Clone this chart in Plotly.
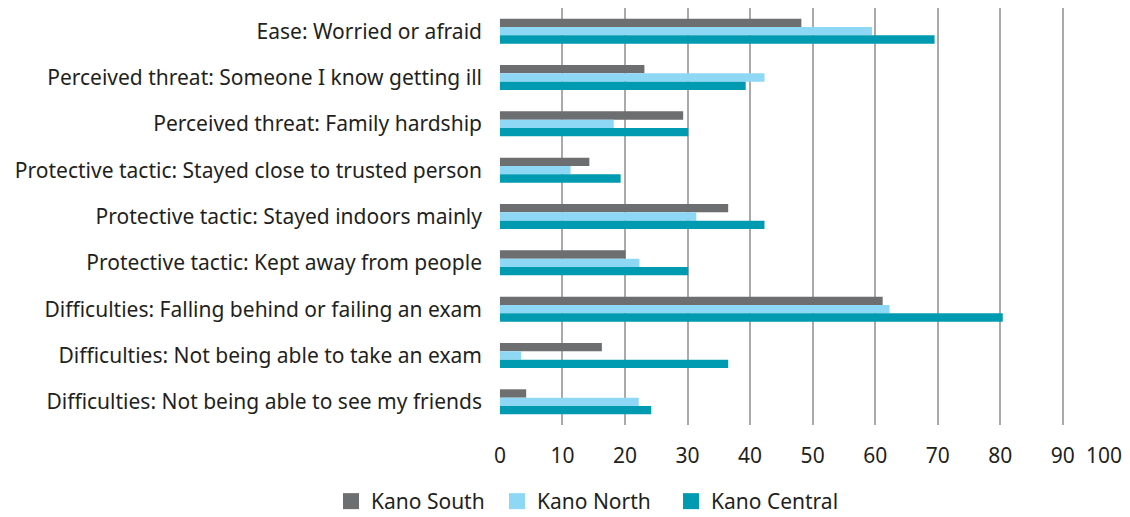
import plotly.graph_objects as go

categories = [
    "Ease: Worried or afraid",
    "Perceived threat: Someone I know getting ill",
    "Perceived threat: Family hardship",
    "Protective tactic: Stayed close to trusted person",
    "Protective tactic: Stayed indoors mainly",
    "Protective tactic: Kept away from people",
    "Difficulties: Falling behind or failing an exam",
    "Difficulties: Not being able to take an exam",
    "Difficulties: Not being able to see my friends",
]

kano_south = [48.2, 23.1, 29.3, 14.3, 36.5, 20.1, 61.2, 16.3, 4.2]
kano_north = [59.5, 42.3, 18.2, 11.3, 31.4, 22.3, 62.3, 3.4, 22.2]
kano_central = [69.5, 39.3, 30.1, 19.3, 42.3, 30.1, 80.4, 36.5, 24.2]

series_names = ["Kano South", "Kano North", "Kano Central"]
series_colors = ["#6d6e70", "#8fd8f5", "#009bb0"]

tick_vals = [0, 10, 20, 30, 40, 50, 60, 70, 80, 90, 96.6]
tick_text = ["0", "10", "20", "30", "40", "50", "60", "70", "80", "90", "100"]

FONT = "Noto Sans"
FONT_SIZE = 21
TEXT_COLOR = "#231f20"

# one legend box per series, placed along the bottom of the figure
legend_ids = ["legend", "legend2", "legend3"]
legend_x = [0.2929, 0.4398, 0.5938]

fig = go.Figure()
for name, values, color in zip(series_names, [kano_south, kano_north, kano_central], series_colors):
    fig.add_trace(go.Bar(
        y=categories,
        x=values,
        name=name,
        orientation="h",
        marker=dict(color=color, line=dict(width=0)),
        showlegend=False,
    ))

# legend-only entries with square swatches
for name, color, lid in zip(series_names, series_colors, legend_ids):
    fig.add_trace(go.Scatter(
        x=[None],
        y=[None],
        mode="markers",
        name=name,
        marker=dict(symbol="square", size=16, color=color),
        legend=lid,
        hoverinfo="skip",
    ))

legend_common = dict(
    orientation="h",
    xref="container",
    yref="container",
    xanchor="left",
    y=0.03,
    yanchor="middle",
    bgcolor="rgba(0,0,0,0)",
    font=dict(family=FONT, size=FONT_SIZE, color=TEXT_COLOR),
)

fig.update_layout(
    width=1130,
    height=517,
    margin=dict(l=499, r=21, t=8, b=92),
    paper_bgcolor="white",
    plot_bgcolor="white",
    barmode="group",
    bargap=0.46,
    bargroupgap=0,
    font=dict(family=FONT, size=FONT_SIZE, color=TEXT_COLOR),
    showlegend=True,
    legend=dict(x=legend_x[0], **legend_common),
    legend2=dict(x=legend_x[1], **legend_common),
    legend3=dict(x=legend_x[2], **legend_common),
)

fig.update_xaxes(
    range=[-0.15, 96.75],
    tickvals=tick_vals,
    ticktext=tick_text,
    showgrid=True,
    gridcolor="#aaaaaa",
    gridwidth=1.8,
    zeroline=False,
    showline=False,
    ticks="outside",
    ticklen=12,
    tickcolor="rgba(0,0,0,0)",
    tickfont=dict(family=FONT, size=FONT_SIZE, color=TEXT_COLOR),
)

fig.update_yaxes(
    autorange="reversed",
    showgrid=False,
    zeroline=False,
    showline=False,
    ticks="",
    ticklabelstandoff=16,
    tickfont=dict(family=FONT, size=FONT_SIZE, color=TEXT_COLOR),
)

fig.write_html("out.html")
